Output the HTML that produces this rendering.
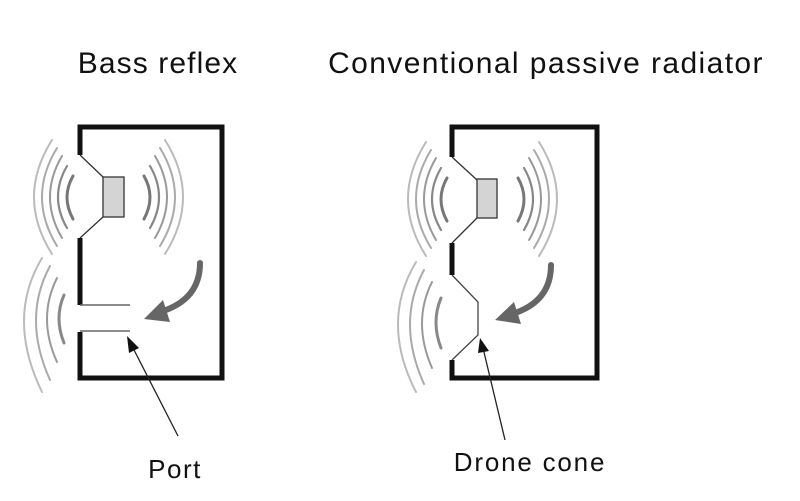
<!DOCTYPE html>
<html><head><style>body{margin:0;background:#fff}svg{display:block}text{font-family:"Liberation Sans",Arial,sans-serif;fill:#111}</style></head>
<body>
<svg width="800" height="501" viewBox="0 0 800 501" xmlns="http://www.w3.org/2000/svg">
<defs>
<g id="spkL" fill="none" stroke-linecap="round">
<path d="M73,176 Q61,197 73,219" stroke="#777" stroke-width="3"/>
<path d="M67,166 Q49,197 67,228" stroke="#888" stroke-width="2.2"/>
<path d="M62,156 Q38,197 62,238" stroke="#999" stroke-width="2"/>
<path d="M57,148 Q27,197 57,246" stroke="#aaa" stroke-width="2"/>
<path d="M52,140 Q16,197 52,254" stroke="#bbb" stroke-width="2"/>
</g>
<g id="spkR" fill="none" stroke-linecap="round">
<path d="M144,176 Q156,197 144,219" stroke="#777" stroke-width="3"/>
<path d="M150,166 Q168,197 150,228" stroke="#888" stroke-width="2.2"/>
<path d="M155,156 Q179,197 155,238" stroke="#999" stroke-width="2"/>
<path d="M160,148 Q190,197 160,246" stroke="#aaa" stroke-width="2"/>
<path d="M165,140 Q201,197 165,254" stroke="#bbb" stroke-width="2"/>
</g>
</defs>
<text x="158" y="73" font-size="30" letter-spacing="1.1" text-anchor="middle">Bass reflex</text>
<text x="546" y="73" font-size="30" letter-spacing="1.4" text-anchor="middle">Conventional passive radiator</text>

<!-- Box 1 -->
<g>
<use href="#spkL"/><use href="#spkR"/>
<g fill="none" stroke-linecap="round">
<path d="M64,295 Q54,318 64,343" stroke="#888" stroke-width="3"/>
<path d="M57,278 Q37,318 57,362" stroke="#999" stroke-width="2"/>
<path d="M50,266 Q22,318 50,380" stroke="#aaa" stroke-width="2"/>
<path d="M42,258 Q6,318 42,392" stroke="#bbb" stroke-width="2"/>
</g>
<path d="M80,155 L80,127 L222,127 L222,378 L80,378 L80,332" fill="none" stroke="#111" stroke-width="5"/>
<line x1="80" y1="238" x2="80" y2="305" stroke="#111" stroke-width="5"/>
<path d="M80,155 L103,177 M80,238 L103,217" stroke="#333" stroke-width="1.3"/>
<rect x="103" y="177" width="21" height="40" fill="#d4d4d4" stroke="#333" stroke-width="1.3"/>
<line x1="80" y1="305" x2="130" y2="305" stroke="#666" stroke-width="1.5"/>
<line x1="80" y1="331" x2="130" y2="331" stroke="#666" stroke-width="1.5"/>
<path d="M200,263 Q200,300 160,312" fill="none" stroke="#666" stroke-width="6" stroke-linecap="round"/>
<polygon points="144,319 163,300 170,322" fill="#666"/>
<line x1="178" y1="436" x2="132" y2="346" stroke="#222" stroke-width="1.3"/>
<polygon points="127,336 139,348 129,353" fill="#111"/>
<text x="175" y="478" font-size="26" letter-spacing="1.5" text-anchor="middle">Port</text>
</g>

<!-- Box 2 -->
<g>
<g transform="translate(374,2)"><use href="#spkL"/><use href="#spkR"/></g>
<g fill="none" stroke-linecap="round">
<path d="M441,298 Q431,322 441,348" stroke="#888" stroke-width="3"/>
<path d="M432,282 Q412,322 432,368" stroke="#999" stroke-width="2"/>
<path d="M424,270 Q396,322 424,384" stroke="#aaa" stroke-width="2"/>
<path d="M416,262 Q380,322 416,392" stroke="#bbb" stroke-width="2"/>
</g>
<path d="M452,157 L452,127 L597,127 L597,378 L452,378 L452,360" fill="none" stroke="#111" stroke-width="5"/>
<line x1="452" y1="243" x2="452" y2="275" stroke="#111" stroke-width="5"/>
<path d="M452,157 L477,180 M452,243 L477,218" stroke="#333" stroke-width="1.3"/>
<rect x="477" y="179" width="20" height="39" fill="#d4d4d4" stroke="#333" stroke-width="1.3"/>
<path d="M452,275 L478,302 L478,335 L452,360" fill="none" stroke="#444" stroke-width="1.3"/>
<path d="M551,265 Q551,302 512,314" fill="none" stroke="#666" stroke-width="6" stroke-linecap="round"/>
<polygon points="495,320 514,302 521,324" fill="#666"/>
<line x1="505" y1="440" x2="483" y2="348" stroke="#222" stroke-width="1.3"/>
<polygon points="480,338 489,351 478,353" fill="#111"/>
<text x="530" y="471" font-size="26" letter-spacing="1.8" text-anchor="middle">Drone cone</text>
</g>
</svg>
</body></html>
